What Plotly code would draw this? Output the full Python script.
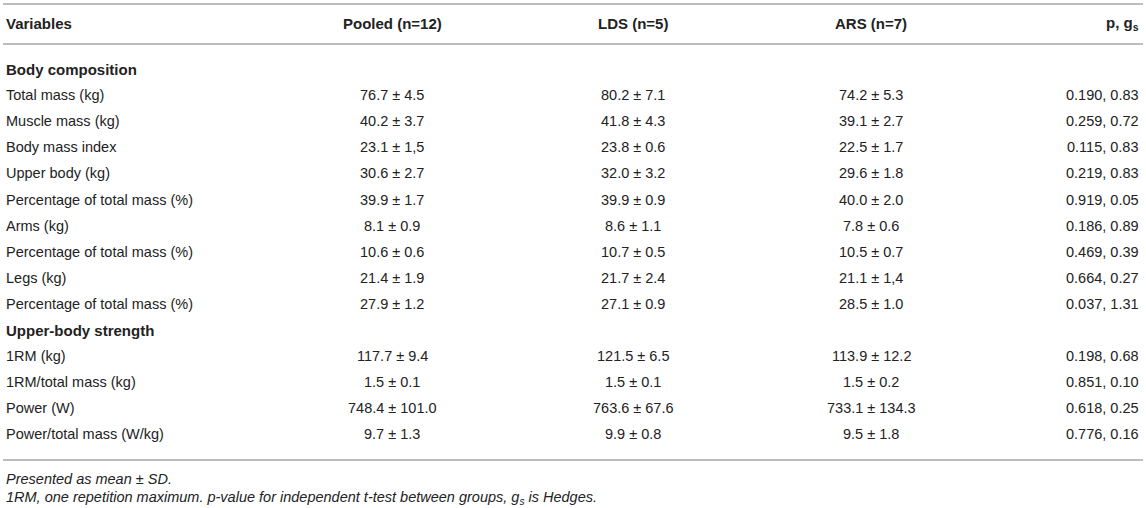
import plotly.graph_objects as go

# table content
headers = ["Variables", "Pooled (n=12)", "LDS (n=5)", "ARS (n=7)", "p, g<sub>s</sub>"]

sections = ["Body composition", "Upper-body strength"]

variables_body = ["Total mass (kg)", "Muscle mass (kg)", "Body mass index", "Upper body (kg)",
                  "Percentage of total mass (%)", "Arms (kg)", "Percentage of total mass (%)",
                  "Legs (kg)", "Percentage of total mass (%)"]
pooled_body = ["76.7 ± 4.5", "40.2 ± 3.7", "23.1 ± 1,5", "30.6 ± 2.7", "39.9 ± 1.7",
               "8.1 ± 0.9", "10.6 ± 0.6", "21.4 ± 1.9", "27.9 ± 1.2"]
lds_body = ["80.2 ± 7.1", "41.8 ± 4.3", "23.8 ± 0.6", "32.0 ± 3.2", "39.9 ± 0.9",
            "8.6 ± 1.1", "10.7 ± 0.5", "21.7 ± 2.4", "27.1 ± 0.9"]
ars_body = ["74.2 ± 5.3", "39.1 ± 2.7", "22.5 ± 1.7", "29.6 ± 1.8", "40.0 ± 2.0",
            "7.8 ± 0.6", "10.5 ± 0.7", "21.1 ± 1,4", "28.5 ± 1.0"]
p_body = ["0.190, 0.83", "0.259, 0.72", "0.115, 0.83", "0.219, 0.83", "0.919, 0.05",
          "0.186, 0.89", "0.469, 0.39", "0.664, 0.27", "0.037, 1.31"]

variables_str = ["1RM (kg)", "1RM/total mass (kg)", "Power (W)", "Power/total mass (W/kg)"]
pooled_str = ["117.7 ± 9.4", "1.5 ± 0.1", "748.4 ± 101.0", "9.7 ± 1.3"]
lds_str = ["121.5 ± 6.5", "1.5 ± 0.1", "763.6 ± 67.6", "9.9 ± 0.8"]
ars_str = ["113.9 ± 12.2", "1.5 ± 0.2", "733.1 ± 134.3", "9.5 ± 1.8"]
p_str = ["0.198, 0.68", "0.851, 0.10", "0.618, 0.25", "0.776, 0.16"]

footnotes = ["Presented as mean ± SD.",
             "1RM, one repetition maximum. p-value for independent t-test between groups, g<sub>s</sub> is Hedges."]

W, H = 1146, 508
FONT = "Liberation Sans, Arial, Helvetica, sans-serif"
TXT = "#222222"
LINE = "#bdbdbd"

col_x = [4, 392, 633, 871, 1141]
col_anchor = ["left", "center", "center", "center", "right"]

header_y = 23
first_row_y = 69
step = 26.1
rule_ys = [4, 44, 460]
foot_ys = [479, 498]

rows = [(sections[0], None)]
for i in range(len(variables_body)):
    rows.append((variables_body[i], [pooled_body[i], lds_body[i], ars_body[i], p_body[i]]))
rows.append((sections[1], None))
for i in range(len(variables_str)):
    rows.append((variables_str[i], [pooled_str[i], lds_str[i], ars_str[i], p_str[i]]))

fig = go.Figure()
ann = []

for j, h in enumerate(headers):
    ann.append(dict(x=col_x[j], y=header_y, text="<b>" + h + "</b>", xanchor=col_anchor[j],
                    yanchor="middle", showarrow=False, font=dict(size=15, color=TXT, family=FONT)))

for r, (name, vals) in enumerate(rows):
    y = first_row_y + r * step
    if vals is None:
        ann.append(dict(x=col_x[0], y=y, text="<b>" + name + "</b>", xanchor="left", yanchor="middle",
                        showarrow=False, font=dict(size=15, color=TXT, family=FONT)))
        continue
    cells = [name] + vals
    for j, c in enumerate(cells):
        ann.append(dict(x=col_x[j], y=y, text=c, xanchor=col_anchor[j], yanchor="middle",
                        showarrow=False, font=dict(size=14.5, color=TXT, family=FONT)))

for k, f in enumerate(footnotes):
    ann.append(dict(x=col_x[0], y=foot_ys[k], text="<i>" + f + "</i>", xanchor="left", yanchor="middle",
                    showarrow=False, font=dict(size=14.5, color=TXT, family=FONT)))

shapes = []
for ry in rule_ys:
    shapes.append(dict(type="line", x0=3, x1=1143, y0=ry, y1=ry, xref="x", yref="y",
                       line=dict(color=LINE, width=2)))

fig.update_layout(
    width=W, height=H,
    margin=dict(l=0, r=0, t=0, b=0),
    paper_bgcolor="white", plot_bgcolor="white",
    xaxis=dict(range=[0, W], visible=False, fixedrange=True),
    yaxis=dict(range=[H, 0], visible=False, fixedrange=True),
    annotations=ann, shapes=shapes,
    showlegend=False,
)

fig.write_html("out.html", config={"displayModeBar": False},
               post_script="document.body.style.margin='0';document.body.style.overflow='hidden';")
